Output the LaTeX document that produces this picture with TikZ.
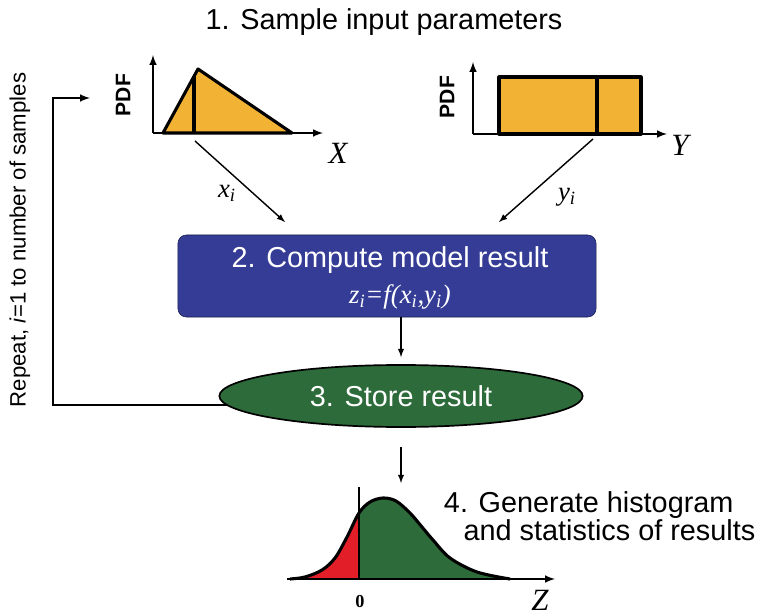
\documentclass[tikz,border=0pt]{standalone}
\usepackage{fontspec}
\setmainfont{Liberation Sans}
\newfontfamily\timesfont{Liberation Serif}
\usetikzlibrary{shapes,arrows,positioning,calc}

\definecolor{pdforange}{RGB}{242,178,51}
\definecolor{modelblue}{RGB}{52,60,150}
\definecolor{storegreen}{RGB}{46,107,58}
\definecolor{tailred}{RGB}{226,30,40}

\tikzset{
  axis/.style={line width=1.4pt,-latex},
  pdfshape/.style={fill=pdforange,draw=black,line width=2.2pt,line join=round},
  flow/.style={line width=1pt,-latex},
  pdflabel/.style={rotate=90,font=\fontsize{15}{15}\selectfont\bfseries},
  varlabel/.style={font=\fontsize{22}{22}\timesfont\itshape},
  sublabel/.style={font=\fontsize{19}{19}\timesfont\itshape},
  steptext/.style={font=\fontsize{20.5}{19}\selectfont},
}

\newcommand{\distcurve}{plot[smooth,tension=0.55] coordinates {(290,579) (305,577) (322,570) (335,558) (347,537) (359,513) (370,502) (383,498) (396,501) (410,513) (422,527) (433,540) (450,558) (477,572) (510,579)}}

\begin{document}
\begin{tikzpicture}[x=0.025cm,y=-0.025cm]
\useasboundingbox (0,0) rectangle (780,615);

% step 1
\node[steptext] (title) at (384,22) {1. Sample input parameters};

% pdf of X
\coordinate (xo) at (153,133);
\coordinate (xtop) at (153,55);
\coordinate (xend) at (323,133);
\filldraw[pdfshape] (163,133) -- (198,69) -- (292,133) -- cycle;
\draw[line width=3pt] (194,76) -- (194,133);
\draw[axis] (xo) -- (xtop);
\draw[axis] (xo) -- (xend);
\node[pdflabel] (xpdf) at (123,95) {PDF};
\node[varlabel] (xlab) at (338,153) {X};

% pdf of Y
\coordinate (yo) at (473,134);
\coordinate (ytop) at (473,62);
\coordinate (yend) at (667,134);
\filldraw[pdfshape] (499,77) rectangle (641,134);
\draw[line width=3pt] (597,77) -- (597,134);
\draw[axis] (yo) -- (ytop);
\draw[axis] (yo) -- (yend);
\node[pdflabel] (ypdf) at (447,97) {PDF};
\node[varlabel] (ylab) at (680,145) {Y};

% samples
\coordinate (xs) at (195,141);
\coordinate (xt) at (285,222);
\coordinate (ys) at (593,139);
\coordinate (yt) at (499,222);
\draw[flow] (xs) -- (xt);
\draw[flow] (ys) -- (yt);
\node[sublabel] (xi) at (227,193) {x\textsubscript{i}};
\node[sublabel] (yi) at (567,197) {y\textsubscript{i}};

% step 2
\node[fill=modelblue,draw=modelblue!50!black,rounded corners=6pt,
      minimum width=10.45cm,minimum height=2.05cm] (model) at (387,276) {};
\node[steptext,text=white] (modeltxt) at (390,260) {2. Compute model result};
\node[text=white,font=\fontsize{19}{19}\timesfont\itshape] (modeleq) at (400,297)
  {z\textsubscript{i}=f(x\textsubscript{i},y\textsubscript{i})};

% step 3
\node[ellipse,fill=storegreen,draw=black,line width=1.2pt,inner sep=0pt,
      minimum width=9.08cm,minimum height=1.55cm,steptext,text=white] (store) at (401,396) {3. Store result};
\draw[flow,shorten >=5pt] (model.south -| store.north) -- (store.north);

% loop back
\coordinate (loopbl) at (53,405);
\coordinate (looptl) at (53,98);
\coordinate (looptip) at (90,98);
\draw[line width=1.4pt,-latex] ($(store.west)+(8,9)$) -- (loopbl) -- (looptl) -- (looptip);
\node[rotate=90,font=\fontsize{15.8}{16}\selectfont] (repeat) at (20,240)
  {Repeat, \textit{i}=1 to number of samples};

% step 4
\coordinate (hs) at (401,447);
\coordinate (ht) at (401,483);
\draw[flow] (hs) -- (ht);
\begin{scope}
  \clip (280,470) rectangle (359,582);
  \fill[tailred] \distcurve -- cycle;
\end{scope}
\begin{scope}
  \clip (359,470) rectangle (560,582);
  \fill[storegreen] \distcurve -- cycle;
\end{scope}
\draw[line width=2.2pt] \distcurve;
\draw[line width=1.6pt] (359,487) -- (359,579);
\coordinate (zo) at (287,579);
\coordinate (zend) at (555,579);
\draw[axis] (zo) -- (zend);
\node[font=\fontsize{13}{13}\timesfont\bfseries] (zero) at (360,602) {0};
\node[varlabel,inner sep=0pt] (zlab) at (540,600) {Z};
\node[steptext,align=left,anchor=west] (hist) at (439,516)
  {4. Generate histogram\\\hspace*{14pt}and statistics of results};
\end{tikzpicture}
\end{document}
